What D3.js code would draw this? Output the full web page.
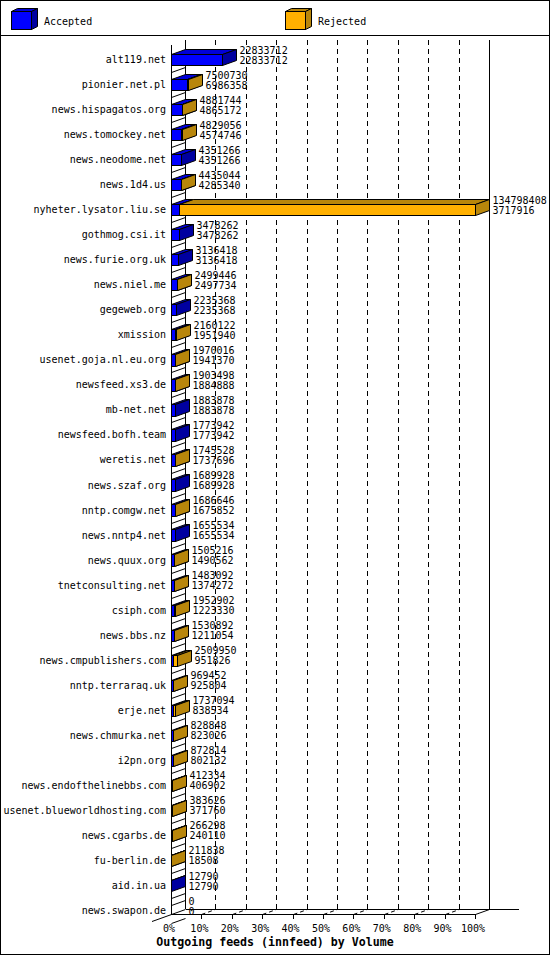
<!DOCTYPE html>
<html lang="en">
<head>
<meta charset="utf-8">
<title>Outgoing feeds (innfeed) by Volume</title>
<script src="https://d3js.org/d3.v7.min.js"></script>
<style>
  body { margin: 0; background: #fff; }
  svg { display: block; font-family: "DejaVu Sans Mono", monospace; }
</style>
</head>
<body>
<svg id="chart" width="550" height="955"></svg>
<script>
const hosts = [
  "alt119.net", "pionier.net.pl", "news.hispagatos.org", "news.tomockey.net",
  "news.neodome.net", "news.1d4.us", "nyheter.lysator.liu.se", "gothmog.csi.it",
  "news.furie.org.uk", "news.niel.me", "gegeweb.org", "xmission",
  "usenet.goja.nl.eu.org", "newsfeed.xs3.de", "mb-net.net", "newsfeed.bofh.team",
  "weretis.net", "news.szaf.org", "nntp.comgw.net", "news.nntp4.net",
  "news.quux.org", "tnetconsulting.net", "csiph.com", "news.bbs.nz",
  "news.cmpublishers.com", "nntp.terraraq.uk", "erje.net", "news.chmurka.net",
  "i2pn.org", "news.endofthelinebbs.com", "usenet.blueworldhosting.com", "news.cgarbs.de",
  "fu-berlin.de", "aid.in.ua", "news.swapon.de"
];
// upper number beside each bar
const offered = [
  22833712, 7500730, 4881744, 4829056, 4351266, 4435044, 134798408, 3478262,
  3136418, 2499446, 2235368, 2160122, 1970016, 1903498, 1883878, 1773942,
  1745528, 1689928, 1686646, 1655534, 1505216, 1483092, 1952902, 1530892,
  2509950, 969452, 1737094, 828848, 872814, 412334, 383626, 266298,
  211838, 12790, 0
];
// lower number beside each bar
const accepted = [
  22833712, 6986358, 4865172, 4574746, 4351266, 4285340, 3717916, 3478262,
  3136418, 2497734, 2235368, 1951940, 1941370, 1884888, 1883878, 1773942,
  1737696, 1689928, 1675852, 1655534, 1490562, 1374272, 1223330, 1211054,
  951826, 925804, 838534, 823026, 802132, 406902, 371760, 240110,
  18508, 12790, 0
];
const seriesNames = ["Accepted", "Rejected"];
const percentTicks = [0, 10, 20, 30, 40, 50, 60, 70, 80, 90, 100];
const title = "Outgoing feeds (innfeed) by Volume";

const width = 550, height = 955;
const left = 171, right = 475;
const dx = 14, dy = -5;
const plotTop = 47, step = 25.03;
const axisY = 914;

const colors = {
  Accepted: { front: "#0000ff", top: "#0000d8", side: "#0000a0" },
  Rejected: { front: "#ffb000", top: "#b8860b", side: "#b8860b" }
};

const table = hosts.map((h, i) => ({
  host: h, offered: offered[i], Accepted: accepted[i], Rejected: offered[i] - accepted[i]
}));
const stacked = d3.stack().keys(seriesNames)(table);

const x = d3.scaleLinear().domain([0, d3.max(offered)]).range([left, right]);
const xPct = d3.scaleLinear().domain([0, 100]).range([left, right]);
const y = d3.scaleBand().domain(hosts)
  .range([plotTop, plotTop + step * hosts.length])
  .paddingInner(0.55).paddingOuter(0.275);

const svg = d3.select("#chart");
const px = v => Math.round(v) + 0.5;

const line = (g, x1, y1, x2, y2, dash) => g.append("line")
  .attr("x1", x1).attr("y1", y1).attr("x2", x2).attr("y2", y2)
  .attr("stroke", "#000").attr("stroke-dasharray", dash || null);

const box = (g, xa, xb, ya, yb, c, ddx, ddy) => {
  const pts = a => a.map(p => p.join(",")).join(" ");
  g.append("polygon")
    .attr("points", pts([[xa, ya], [xa + ddx, ya + ddy], [xb + ddx, ya + ddy], [xb, ya]]))
    .attr("fill", c.top).attr("stroke", "#000");
  g.append("polygon")
    .attr("points", pts([[xb, ya], [xb + ddx, ya + ddy], [xb + ddx, yb + ddy], [xb, yb]]))
    .attr("fill", c.side).attr("stroke", "#000");
  g.append("rect").attr("x", xa).attr("y", ya).attr("width", xb - xa).attr("height", yb - ya)
    .attr("fill", c.front).attr("stroke", "#000");
};

// frame and legend
svg.append("rect").attr("x", 0.5).attr("y", 0.5).attr("width", width - 1).attr("height", height - 1)
  .attr("fill", "#fff").attr("stroke", "#000");
line(svg, 0, 35.5, width, 35.5);
const legendX = [11, 285];
seriesNames.forEach((s, i) => {
  const g = svg.append("g");
  box(g, legendX[i] + 0.5, legendX[i] + 20.5, 11.5, 29.5, colors[s], 6, -3);
  g.append("text").attr("x", legendX[i] + 33).attr("y", 24.5)
    .attr("font-size", 10).text(s);
});

// walls, grid and floor
const grid = svg.append("g").attr("shape-rendering", "crispEdges");
percentTicks.slice(1, -1).forEach(p => {
  line(grid, px(xPct(p) + dx), 40, px(xPct(p) + dx), axisY + dy, "5,4");
});
line(grid, px(left), axisY - 869, px(left), px(axisY));
line(grid, px(left + dx), 40, px(left + dx), axisY + dy);
line(grid, px(right + dx), 40, px(right + dx), px(axisY + dy));
line(grid, px(left + dx), px(axisY + dy), 519, px(axisY + dy));
line(grid, px(left), px(axisY), px(right), px(axisY));

const floor = svg.append("g");
line(floor, 152, axisY + 7.5, left + dx + 0.5, axisY + dy + 0.5);
line(floor, px(right), px(axisY), px(right + dx), px(axisY + dy));
percentTicks.forEach(p => {
  const t = xPct(p);
  if (p > 0) line(floor, px(t), axisY, px(t), axisY + 4.5).attr("shape-rendering", "crispEdges");
  if (p > 0 && p < 100) line(floor, px(t), px(axisY), px(t + dx), px(axisY + dy), "4,3");
  floor.append("text").attr("x", t - 2).attr("y", 931.5)
    .attr("text-anchor", "middle").attr("font-size", 10).text(p + "%");
});
hosts.forEach(h => {
  const yb = y(h) + y.bandwidth() + step * 0.275;
  line(floor, px(left), px(yb), px(left + dx), px(yb + dy));
});

// bars
const bars = svg.append("g");
table.forEach((d, i) => {
  const ya = px(y(d.host)), yb = px(y(d.host) + y.bandwidth());
  if (d.offered === 0) {
    line(bars, px(left), ya, px(left + dx), ya + dy);
    return;
  }
  stacked.forEach(layer => {
    const seg = layer[i];
    if (seg[1] - seg[0] <= 0) return;
    box(bars, px(x(seg[0])), px(x(seg[1])), ya, yb, colors[layer.key], dx, dy);
  });
});

// value labels
const labels = svg.append("g").attr("font-size", 10);
table.forEach(d => {
  const c = y(d.host) + y.bandwidth() / 2;
  const lx = Math.round(x(d.offered)) + dx + 3.5;
  labels.append("text").attr("x", lx).attr("y", c - 6).text(d.offered);
  labels.append("text").attr("x", lx).attr("y", c + 4).text(d.Accepted);
});

// category labels
svg.append("g").attr("font-size", 10).attr("text-anchor", "end")
  .selectAll("text").data(hosts).enter().append("text")
  .attr("x", 166)
  .attr("y", h => y(h) + y.bandwidth() / 2 + 3.5)
  .text(h => h);

svg.append("text").attr("x", width / 2).attr("y", 946)
  .attr("text-anchor", "middle").attr("font-size", 11.6).attr("font-weight", "bold")
  .text(title);
</script>
</body>
</html>
